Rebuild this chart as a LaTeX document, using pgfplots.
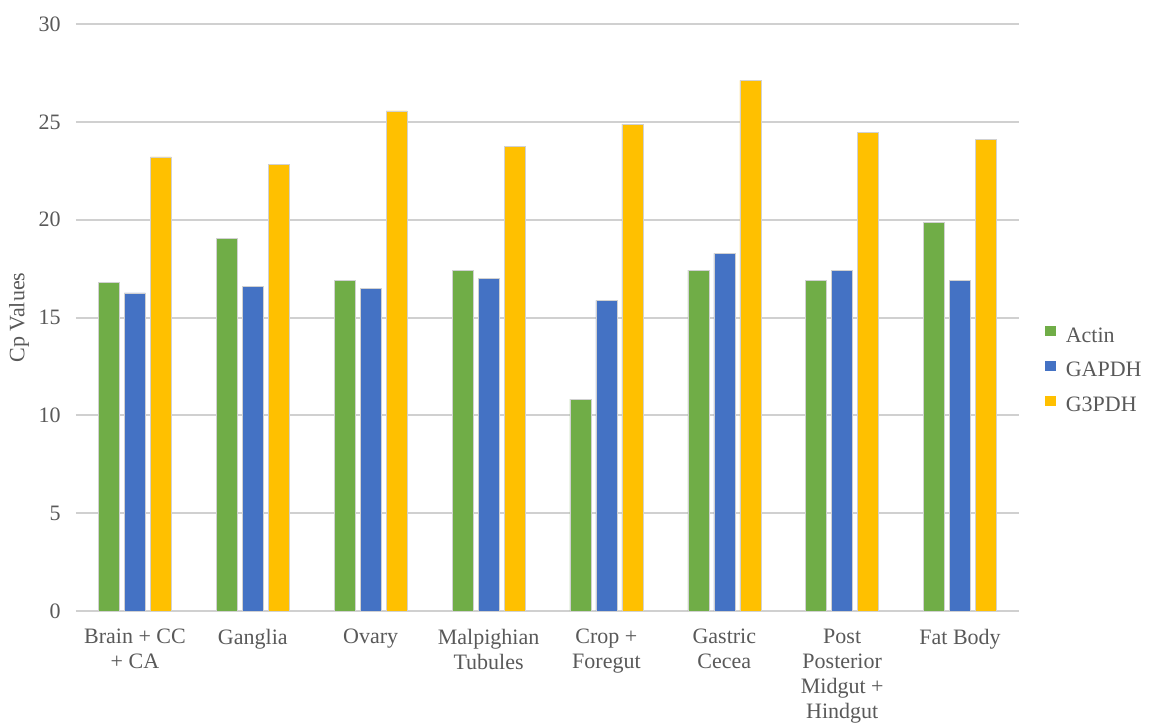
\documentclass[border=0pt]{standalone}
\usepackage{fontspec}
\setmainfont{Liberation Serif}
\usepackage{pgfplots}
\pgfplotsset{compat=1.18}
\definecolor{actin}{HTML}{70AD47}
\definecolor{gapdh}{HTML}{4472C4}
\definecolor{gtpdh}{HTML}{FFC000}
\definecolor{txt}{HTML}{595959}
\definecolor{gridc}{HTML}{D0D0D0}
\begin{document}
\begin{tikzpicture}
\begin{axis}[
  scale only axis, width=471.5pt, height=293.5pt,
  xmin=-0.5, xmax=7.5, ymin=0, ymax=30,
  ybar=2.5pt, bar width=10.5pt,
  legend image code/.code={\draw[#1, draw=none] (0pt,0pt) rectangle (5.2pt,5.2pt);},
  xtick={0,...,7},
  xticklabels={Brain + CC\\+ CA, Ganglia, Ovary, Malpighian\\Tubules, Crop +\\Foregut, Gastric\\Cecea, Post\\Posterior\\Midgut +\\Hindgut, Fat Body},
  ytick={0,5,...,30},
  major tick length=0pt,
  xtick style={draw=none}, ytick style={draw=none},
  axis line style={draw=none},
  ymajorgrids, grid style={gridc, line width=1pt},
  /pgf/number format/assume math mode=true,
  tick label style={font=\fontsize{11}{12.5}\selectfont, text=txt},
  yticklabel style={inner sep=0pt, xshift=-7.5pt},
  xticklabel style={align=center, anchor=north, inner sep=0pt, yshift=-9pt},
  ylabel={Cp Values},
  ylabel style={at={(axis description cs:-0.0604,0.5)}, anchor=center, font=\fontsize{11}{12.5}\selectfont, text=txt},
  legend cell align=left,
  legend style={at={(axis description cs:1.0276,0.41)}, anchor=west, draw=none, fill=none,
    inner sep=0pt, font=\fontsize{11}{12.5}\selectfont, text=txt, row sep=7.8pt,
    nodes={inner sep=0pt},
    /tikz/every odd column/.append style={column sep=5pt}},
  every axis plot/.append style={draw=black!18, line width=0.3pt},
]
\addplot[fill=actin] coordinates {(0,16.79) (1,19.03) (2,16.89) (3,17.42) (4,10.83) (5,17.42) (6,16.89) (7,19.85)};
\addplot[fill=gapdh] coordinates {(0,16.26) (1,16.57) (2,16.48) (3,16.98) (4,15.87) (5,18.28) (6,17.39) (7,16.89)};
\addplot[fill=gtpdh] coordinates {(0,23.21) (1,22.82) (2,25.56) (3,23.74) (4,24.88) (5,27.12) (6,24.45) (7,24.10)};
\legend{Actin, GAPDH, G3PDH}
\end{axis}
\pgfresetboundingbox
\path[use as bounding box] ([xshift=-38pt,yshift=-57pt]current axis.south west) rectangle ([xshift=65.5pt,yshift=12pt]current axis.north east);
\end{tikzpicture}
\end{document}
